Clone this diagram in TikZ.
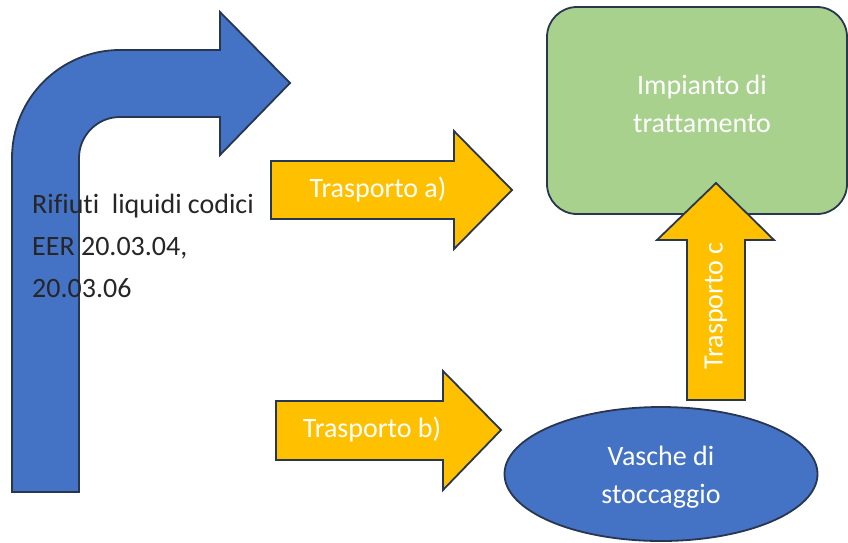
\documentclass[tikz,border=0pt]{standalone}
\usepackage{fontspec}
\setmainfont{Carlito}[Ligatures=NoCommon]
\usepackage{tikz}
\usetikzlibrary{shapes.geometric}
\definecolor{blockblue}{HTML}{4472C4}
\definecolor{blockyellow}{HTML}{FFC000}
\definecolor{blockgreen}{HTML}{A9D18E}
\definecolor{outline}{HTML}{283650}
\tikzset{
    block-shape/.style = {draw=outline, line width=1.8pt, line join=miter},
    block-text/.style = {text=white, font=\fontsize{28}{38}\selectfont, align=center},
}

\begin{document}
\begin{tikzpicture}[x=1pt, y=1pt]
\useasboundingbox (0,0) rectangle (848,-542);
% bent arrow
\draw[block-shape, fill=blockblue] (12,-492) -- (12,-158) arc[start angle=180, end angle=90, radius=108]
    -- (220,-50) -- (220,-12) -- (290,-83) -- (220,-155) -- (220,-117) -- (120,-117)
    arc[start angle=90, end angle=180, radius=41] -- (79,-492) -- cycle;
\node[text=black!85, font=\fontsize{28}{42}\selectfont, align=left, anchor=west, inner sep=0pt] (rifiuti) at (32,-246) {Rifiuti\ \ liquidi codici\\EER 20.03.04,\\20.03.06};
% transport arrows
\draw[block-shape, fill=blockyellow] (271,-161) -- (454,-161) -- (454,-131) -- (512,-190) -- (454,-249) -- (454,-219) -- (271,-219) -- cycle;
\node[block-text] (trasporto-a) at (378,-190) {Trasporto a)};
\draw[block-shape, fill=blockyellow] (276,-401) -- (443,-401) -- (443,-371) -- (501,-430) -- (443,-490) -- (443,-460) -- (276,-460) -- cycle;
\node[block-text] (trasporto-b) at (372,-430) {Trasporto b)};
% plant and storage
\node[block-shape, fill=blockgreen, rounded corners=30pt, minimum width=300pt, minimum height=207pt] (impianto) at (697,-110.5) {};
\node[block-text] (impianto-text) at (702,-104) {Impianto di\\trattamento};
\draw[block-shape, fill=blockyellow] (687,-400) -- (687,-240) -- (657,-240) -- (716,-183) -- (774,-240) -- (745,-240) -- (745,-400) -- cycle;
\node[block-text, rotate=90] (trasporto-c) at (716,-306) {Trasporto c};
\node[block-shape, fill=blockblue, ellipse, minimum width=313pt, minimum height=134pt] (vasche) at (661,-474) {};
\node[block-text] (vasche-text) at (661,-477) {Vasche di\\stoccaggio};
\end{tikzpicture}
\end{document}
